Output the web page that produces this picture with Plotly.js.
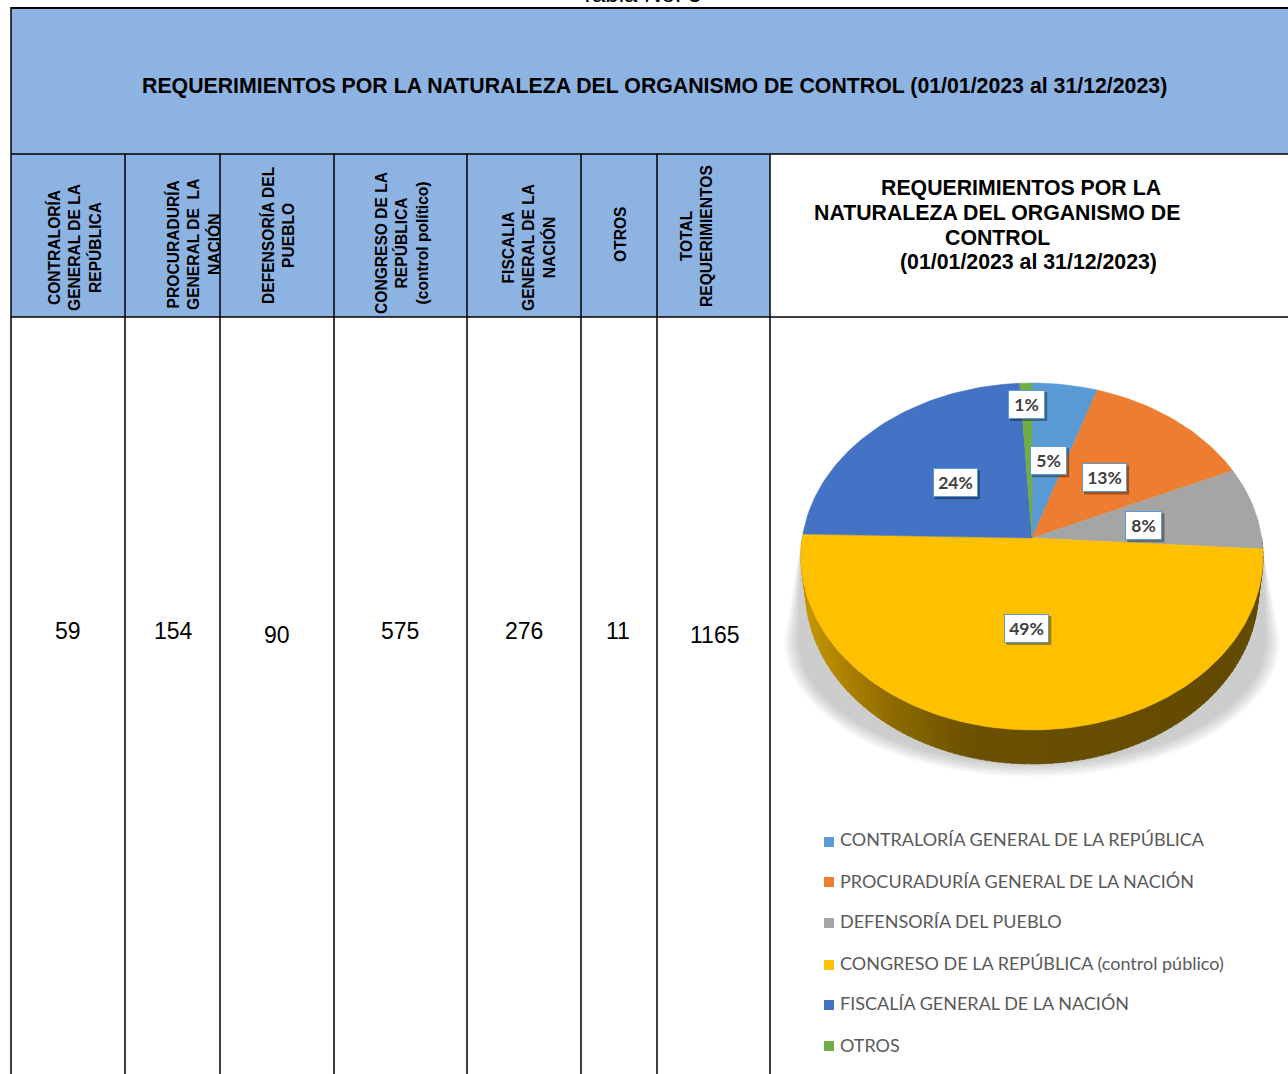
<!DOCTYPE html>
<html><head><meta charset="utf-8">
<script src="https://cdn.plot.ly/plotly-3.0.1.min.js"></script>
<style>html,body{margin:0;padding:0;background:#fff;overflow:hidden}#c{width:1288px;height:1074px}</style>
</head><body><div id="c"></div>
<script>
// ---------- data ----------
const categories = ["CONTRALORÍA GENERAL DE LA REPÚBLICA","PROCURADURÍA GENERAL DE LA NACIÓN","DEFENSORÍA DEL PUEBLO","CONGRESO DE LA REPÚBLICA (control público)","FISCALÍA GENERAL DE LA NACIÓN","OTROS"];
const values = [59,154,90,575,276,11];
const totalValue = 1165;
const percentLabels = ["5%","13%","8%","49%","24%","1%"];
const sliceColors = ["#5b9bd5","#ed7d31","#a5a5a5","#ffc000","#4472c4","#70ad47"];
const headerLabels = ["CONTRALORÍA<br>GENERAL DE LA<br>REPÚBLICA","PROCURADURÍA<br>GENERAL DE  LA<br>NACIÓN","DEFENSORÍA DEL<br>PUEBLO","CONGRESO DE LA<br>REPÚBLICA<br>(control político)","FISCALIA<br>GENERAL DE LA<br>NACIÓN","OTROS","TOTAL<br>REQUERIMIENTOS"];
const cellValues = ["59","154","90","575","276","11","1165"];
const mainTitle = "REQUERIMIENTOS POR LA NATURALEZA DEL ORGANISMO DE CONTROL (01/01/2023 al 31/12/2023)";
const chartTitleLines = ["REQUERIMIENTOS POR LA","NATURALEZA DEL ORGANISMO DE","CONTROL","(01/01/2023 al 31/12/2023)"];

// ---------- layout constants (page pixels) ----------
const colLines = [11,125,220,334,467,581,657,770];
const headerX = [74,193,278,402,529,620,696];
const headerY = [248,245,235,243,248,235,236];
const cellX = [68,173,277,400,524,618,714];
const cellY = [631,631,635,631,631,631,635];
const chartTitleX = [1021,997,997,1028];
const chartTitleY = [188,213,238,262];
const legendMarkerY = [842,882,923,965,1005,1046];
const legendTextY = [839,881,921,963,1003,1045];
const labelRadius = [0.48,0.49,0.5,0.5,0.48,0.85];
const labelNudgeY = [0,0,3,0,0,0];
const FONT = "Liberation Sans, Arial, sans-serif";

// ---------- tilted-pie projection ----------
const CX=1032, CY=538, K=0.1066, A=171.5, B=229.7, DEPTH=34, SHRINK=0.98;
function proj(deg,r){
  const t=deg*Math.PI/180, u=Math.sin(t)*r, v=Math.cos(t)*r, d=1+K*v;
  return [CX+B*u/d, CY-A*v/d];
}
const traces=[];
// soft shadow
const SHADOW_STEPS=9;
for(let s=SHADOW_STEPS;s>=1;s--){
  const f=s/SHADOW_STEPS, xs=[], ys=[];
  const rx=232+f*16, ry=123+f*14, yc=640;
  xs.push(CX-230); ys.push(536);
  for(let a=180;a>=0;a-=4){
    const t=a*Math.PI/180;
    xs.push(CX+rx*Math.cos(t)); ys.push(yc+ry*Math.sin(t));
  }
  xs.push(CX+231); ys.push(550);
  traces.push({type:'scatter',mode:'lines',x:xs,y:ys,fill:'toself',fillcolor:'rgba(90,90,90,0.035)',line:{width:0},hoverinfo:'skip',showlegend:false});
}
// slice boundaries from the values
const bounds=[0]; values.forEach(v=>bounds.push(bounds[bounds.length-1]+v));
const sum=bounds[bounds.length-1];
const angle=i=>bounds[i]/sum*360;
function rgb(h){return [1,3,5].map(i=>parseInt(h.substr(i,2),16));}
function shade(t){
  const st=[[0,.78],[.2,.55],[.36,.42],[1,.38]];
  for(let i=1;i<st.length;i++) if(t<=st[i][0]){
    const p=(t-st[i-1][0])/(st[i][0]-st[i-1][0]); return st[i-1][1]+p*(st[i][1]-st[i-1][1]);
  }
  return .38;
}
// side wall, dark on the right and lighter at the left
for(let a=90;a<270;a+=1.5){
  const mid=a+0.75;
  const p1=proj(a,1),p2=proj(a+1.7,1);
  const q=p=>[CX+(p[0]-CX)*SHRINK,p[1]+DEPTH];
  const q1=q(p1),q2=q(p2);
  const t=(CX+231-proj(mid,1)[0])/462;
  const f=shade(1-t), c=rgb(sliceColors[3]).map(x=>Math.round(x*f));
  const col=`rgb(${c[0]},${c[1]},${c[2]})`;
  traces.push({type:'scatter',mode:'lines',x:[p1[0],p2[0],q2[0],q1[0],p1[0]],y:[p1[1],p2[1],q2[1],q1[1],p1[1]],fill:'toself',fillcolor:col,line:{width:0.6,color:col},hoverinfo:'skip',showlegend:false});
}
// top face
values.forEach((v,i)=>{
  const xs=[CX],ys=[CY],a0=angle(i),a1=angle(i+1),n=Math.max(2,Math.ceil((a1-a0)/1.5));
  for(let j=0;j<=n;j++){const p=proj(a0+(a1-a0)*j/n,1);xs.push(p[0]);ys.push(p[1]);}
  xs.push(CX);ys.push(CY);
  traces.push({type:'scatter',mode:'lines',name:categories[i],x:xs,y:ys,fill:'toself',fillcolor:sliceColors[i],line:{width:0.5,color:sliceColors[i]},hoverinfo:'name',showlegend:false});
});
// legend swatches
traces.push({type:'scatter',mode:'markers',x:categories.map(()=>829),y:legendMarkerY,marker:{symbol:'square',size:10,color:sliceColors},hoverinfo:'skip',showlegend:false});

const shapes=[], annotations=[];
// table fills and lines
const rect=(x0,y0,x1,y1,c)=>({type:'rect',xref:'x',yref:'y',x0,y0,x1,y1,fillcolor:c,line:{width:0},layer:'below'});
const ln=(x0,y0,x1,y1,w)=>({type:'line',xref:'x',yref:'y',x0,y0,x1,y1,line:{color:'#000',width:w},layer:'below'});
shapes.push(rect(11,8,1288,154,'#8db3e2'));
shapes.push(rect(11,154,770,317,'#8db3e2'));
shapes.push(ln(11,8,1288,8,2));
shapes.push(ln(11,154,1288,154,1.5));
shapes.push(ln(11,317,1288,317,1.5));
colLines.forEach(x=>shapes.push(ln(x,x===11?7:154,x,1074,1.5)));

const txt=(text,x,y,size,o={})=>Object.assign({text,x,y,xref:'x',yref:'y',showarrow:false,xanchor:'center',yanchor:'middle',font:{family:FONT,size,color:'#000'}},o);
annotations.push(txt("Tabla No. 3",640,0,24,{yshift:7}));
annotations.push(txt("<b>"+mainTitle+"</b>",654,86,21.3));
headerLabels.forEach((h,i)=>annotations.push(txt("<b>"+h+"</b>",headerX[i],headerY[i],15.6,{textangle:-90})));
cellValues.forEach((c,i)=>annotations.push(txt(c,cellX[i],cellY[i],23)));
chartTitleLines.forEach((c,i)=>annotations.push(txt("<b>"+c+"</b>",chartTitleX[i],chartTitleY[i],21.3)));
categories.forEach((c,i)=>annotations.push({text:c,x:838,y:legendTextY[i],xref:'x',yref:'y',showarrow:false,xanchor:'left',yanchor:'middle',font:{family:'Lato',size:18,color:'#595959'}}));
// percent labels placed along each slice's mid-angle
percentLabels.forEach((p,i)=>{
  const mid=(angle(i)+angle(i+1))/2;
  const pos=proj(mid,labelRadius[i]), w=p.length>2?45:37, h=29;
  pos[1]+=labelNudgeY[i];
  shapes.push({type:'rect',xref:'x',yref:'y',x0:pos[0]-w/2+2,x1:pos[0]+w/2+2,y0:pos[1]-h/2+2,y1:pos[1]+h/2+2,fillcolor:'rgba(0,0,0,0.35)',line:{width:0},layer:'above'});
  annotations.push({text:"<b>"+p+"</b>",x:pos[0],y:pos[1],xref:'x',yref:'y',showarrow:false,xanchor:'center',yanchor:'middle',width:w-2,height:h-2,borderpad:0,borderwidth:1,bordercolor:'#5b9bd5',bgcolor:'#fff',font:{family:'Lato',size:17.5,color:'#404040'}});
});

Plotly.newPlot('c',traces,{
  width:1288,height:1074,margin:{l:0,r:0,t:0,b:0},paper_bgcolor:'#fff',plot_bgcolor:'#fff',showlegend:false,
  xaxis:{range:[0,1288],visible:false,fixedrange:true},
  yaxis:{range:[1074,0],visible:false,fixedrange:true},
  shapes,annotations
},{displayModeBar:false,staticPlot:true});
</script></body></html>
